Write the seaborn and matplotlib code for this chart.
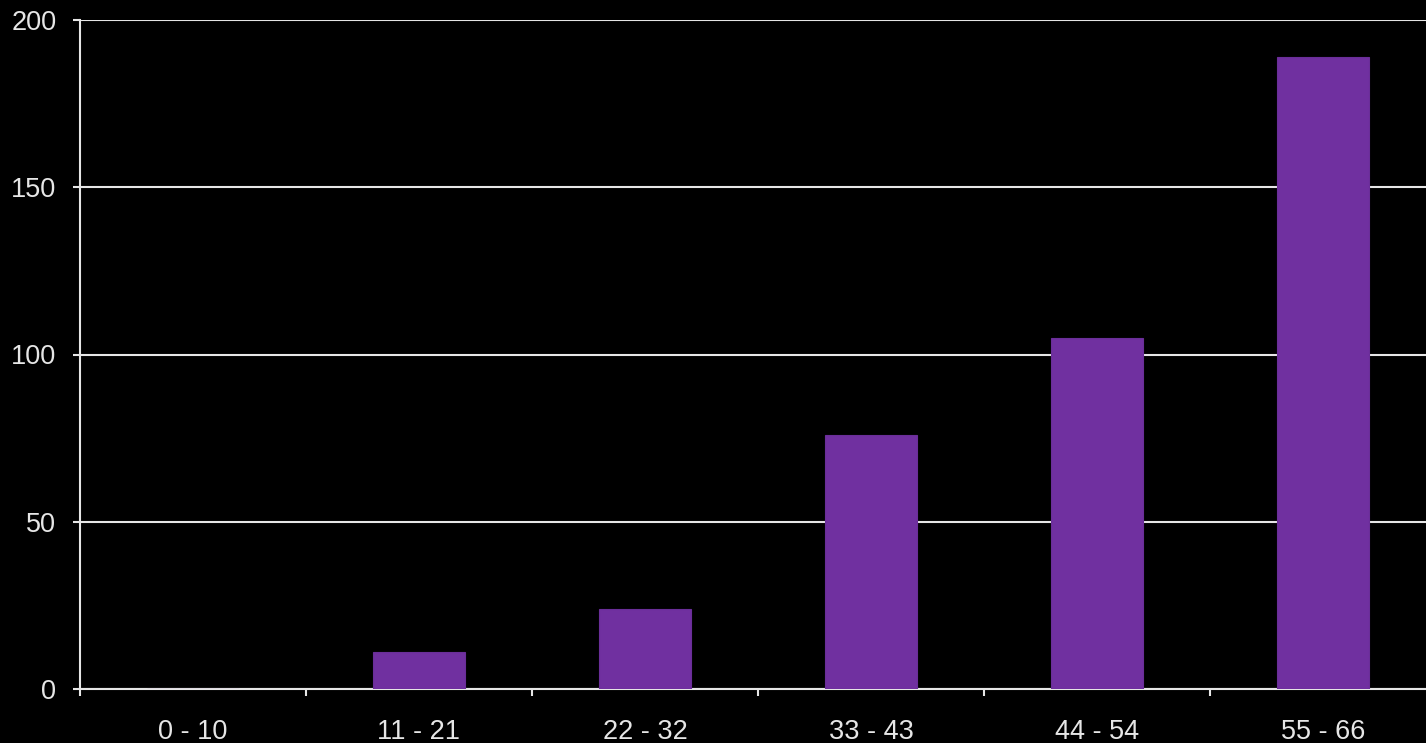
import matplotlib
matplotlib.use("Agg")
import matplotlib.pyplot as plt
import seaborn as sns
import pandas as pd
import numpy as np

categories = ["0 - 10", "11 - 21", "22 - 32", "33 - 43", "44 - 54", "55 - 66"]
values = [0, 11, 24, 76, 105, 189]
yticks = [0, 50, 100, 150, 200]

sns.set_theme(style="dark")
plt.rcParams['font.family'] = ['Liberation Sans', 'DejaVu Sans']

fig = plt.figure(figsize=(14.26, 7.43), dpi=100, facecolor="black")
ax = fig.add_axes([80/1426, 1 - 689/743, 1356/1426, (689 - 20)/743])
ax.set_facecolor("black")

df = pd.DataFrame({"cat": categories, "val": values})
sns.barplot(data=df, x="cat", y="val", color="#7030A0", saturation=1, width=0.41,
            edgecolor="#6A2E98", linewidth=0.8, ax=ax, zorder=3)

ax.set_xlim(-0.5, 5.5)
ax.set_ylim(0, 200)
ax.set_yticks(yticks)
ax.set_yticklabels([str(t) for t in yticks])
ax.grid(axis="y", color="#E6E6E6", linewidth=1.5, zorder=0)
ax.grid(axis="x", visible=False)
ax.set_axisbelow(True)
ax.set_xlabel("")
ax.set_ylabel("")

for s in ["top", "right"]:
    ax.spines[s].set_visible(False)
for s in ["left", "bottom"]:
    ax.spines[s].set_visible(True)
    ax.spines[s].set_color("#E6E6E6")
    ax.spines[s].set_linewidth(1.5)

ax.set_xticks(np.arange(len(categories)))
ax.set_xticklabels(categories)
ax.set_xticks(np.arange(-0.5, len(categories), 1.0), minor=True)
ax.tick_params(axis="x", which="major", length=0, pad=21.5, labelsize=19.5, colors="#E6E6E6")
ax.tick_params(axis="x", which="minor", length=5, width=1.5, color="#E6E6E6", direction="out", bottom=True)
ax.tick_params(axis="y", which="major", length=5, width=1.5, color="#E6E6E6", direction="out", left=True,
               labelsize=19.5, labelcolor="#E6E6E6", pad=12)

fig.savefig("out.png", dpi=100, facecolor="black")
